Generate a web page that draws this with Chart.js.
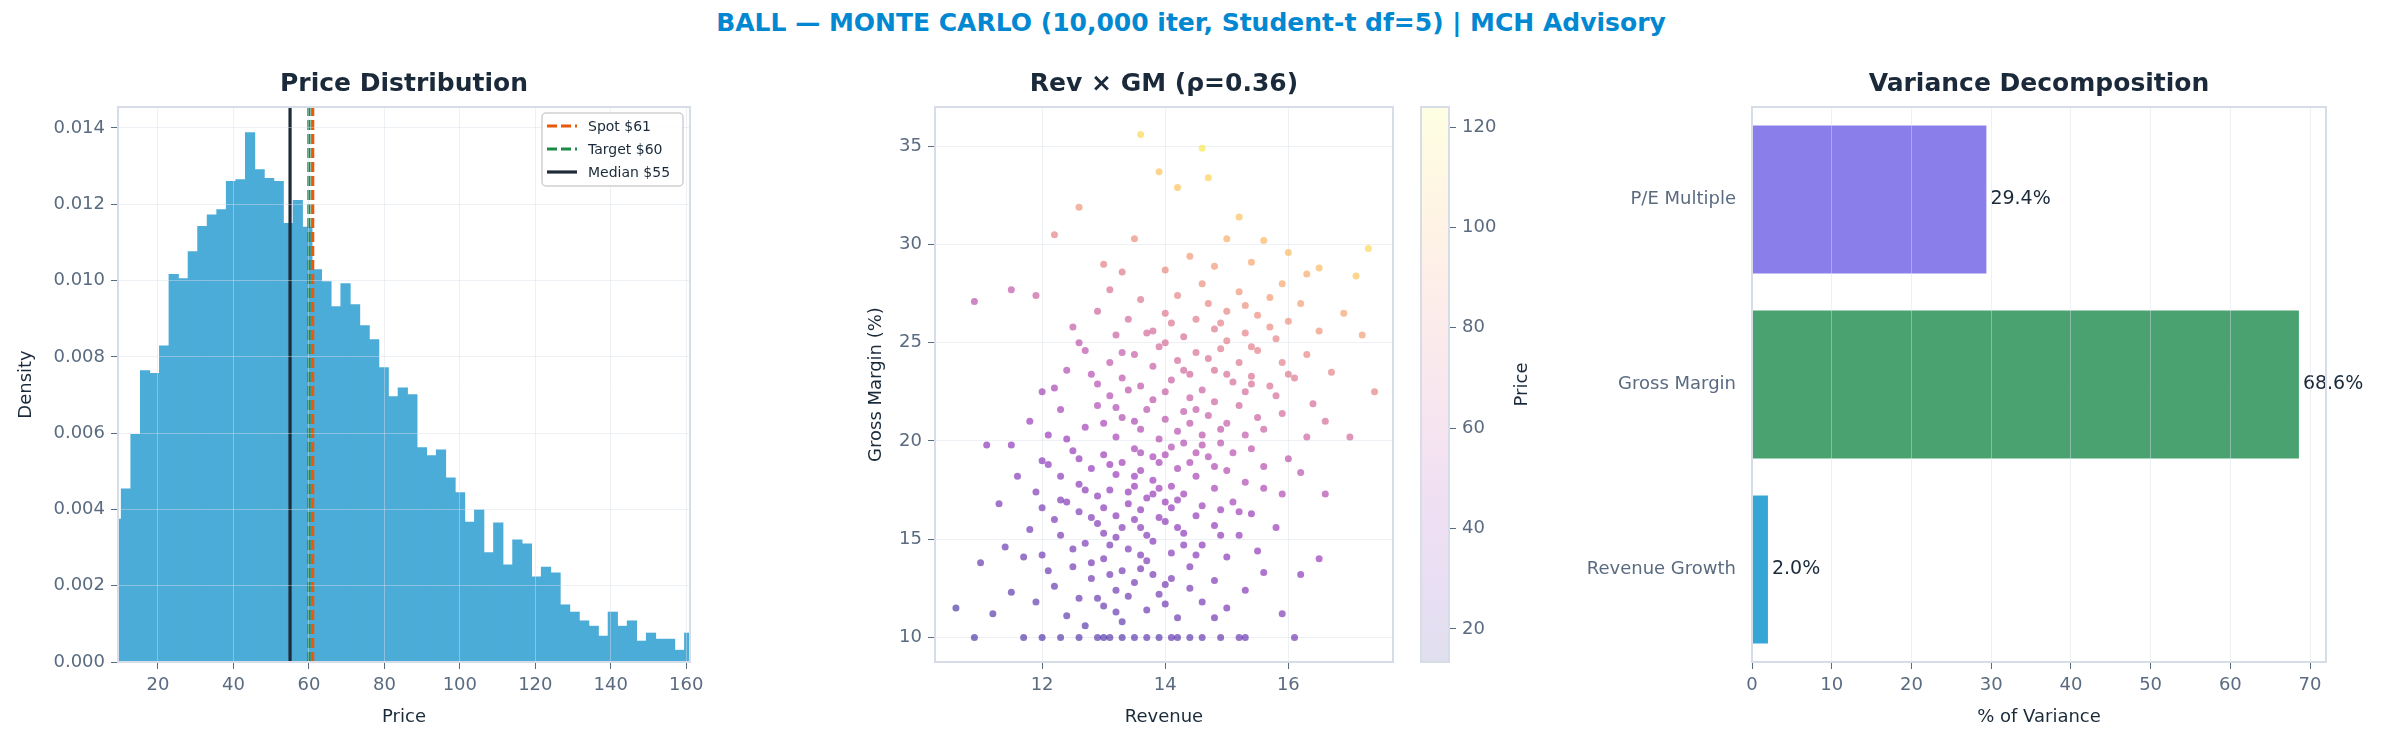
<!DOCTYPE html>
<html><head><meta charset="utf-8">
<script src="https://cdn.jsdelivr.net/npm/chart.js@4"></script>
<style>
html,body{margin:0;padding:0;background:#fff;width:2382px;height:742px;overflow:hidden}
canvas{position:absolute;left:0;top:0}
#title{position:absolute;left:0;top:8px;width:2382px;text-align:center;font:bold 25px 'DejaVu Sans';color:#0288D1}
</style></head><body>
<div id="title">BALL — MONTE CARLO (10,000 iter, Student-t df=5) | MCH Advisory</div>
<canvas id="c1" width="2382" height="742"></canvas>
<canvas id="c2" width="2382" height="742"></canvas>
<canvas id="c3" width="2382" height="742"></canvas>
<canvas id="c4" width="2382" height="742"></canvas>
<script>
// ---------- DATA ----------
const histStart = 7.72, histBinWidth = 2.53;
const histDensity = [0.00375,0.00454,0.00597,0.00764,0.00757,0.00829,0.01016,0.01005,0.01076,0.01142,
 0.01172,0.01186,0.01260,0.01265,0.01388,0.01291,0.01268,0.01260,0.01150,0.01210,
 0.01140,0.01029,0.00997,0.00932,0.00992,0.00937,0.00882,0.00845,0.00772,0.00696,
 0.00719,0.00701,0.00562,0.00541,0.00556,0.00483,0.00444,0.00367,0.00399,0.00287,
 0.00365,0.00255,0.00320,0.00310,0.00223,0.00249,0.00234,0.00150,0.00131,0.00108,
 0.00094,0.00068,0.00131,0.00094,0.00108,0.00055,0.00076,0.00060,0.00060,0.00031,0.00076];
const refLabels = ['Spot $61','Target $60','Median $55'];
const refValues = [61, 60, 55];
const histXTicks = [20,40,60,80,100,120,140,160];
const histYTicks = [0,0.002,0.004,0.006,0.008,0.010,0.012,0.014];

// [revenue, gross margin %, price]
const scatterSamples = [
[11.7,10,20],[12.0,10,19],[12.3,10,21],[12.6,10,20],[12.9,10,22],[13.1,10,21],[13.3,10,20],[13.5,10,22],[13.7,10,23],[13.9,10,21],[14.1,10,24],[14.2,10,22],[14.4,10,23],[14.6,10,25],[14.9,10,24],[15.2,10,26],[15.3,10,25],[10.9,10,17],[16.1,10,28],[13.0,10,19],
[10.6,11.5,18],[11.2,11.2,20],[11.5,12.3,22],[11.9,11.8,23],[12.2,12.6,24],[12.4,11.1,22],[12.6,12.0,25],[12.8,13.0,27],[13.0,11.6,24],[13.2,12.4,26],[13.3,10.8,22],[13.5,12.8,28],[13.7,11.4,26],[13.9,12.2,28],[14.1,13.0,30],[14.2,11.0,26],[14.4,12.5,30],[14.6,11.8,29],[14.8,12.9,32],[15.0,11.5,30],[15.3,12.4,33],[15.9,11.2,32],[16.2,13.2,37],[12.1,13.4,26],[13.6,13.5,29],[12.9,12.0,24],[14.0,11.7,27],
[11.0,13.8,24],[11.4,14.6,26],[11.8,15.5,29],[12.0,14.2,28],[12.3,15.2,30],[12.5,13.6,28],[12.7,14.8,31],[12.9,15.8,33],[13.0,14.0,30],[13.2,15.1,33],[13.3,13.4,29],[13.4,14.5,32],[13.6,15.6,35],[13.7,13.9,32],[13.8,14.9,34],[14.0,15.9,37],[14.1,14.3,34],[14.3,15.3,37],[14.4,13.6,33],[14.6,14.7,36],[14.8,15.7,39],[15.0,14.1,36],[15.2,15.2,39],[15.5,14.4,38],[15.8,15.6,42],[16.5,14.0,42],[12.2,16.0,31],[13.5,16.0,35],[14.5,16.2,39],[13.1,13.2,28],[12.6,16.4,32],[15.4,16.3,42],
[11.3,16.8,30],[11.6,18.2,34],[11.9,17.4,33],[12.1,18.8,37],[12.4,16.9,34],[12.6,17.8,37],[12.8,18.6,40],[13.0,16.6,36],[13.1,17.5,39],[13.2,18.3,42],[13.4,16.8,38],[13.5,17.7,41],[13.6,18.5,44],[13.7,17.1,40],[13.8,18.0,43],[13.9,18.9,46],[14.0,16.9,41],[14.1,17.7,44],[14.2,18.6,47],[14.3,17.3,44],[14.5,18.2,47],[14.6,16.7,43],[14.8,17.6,47],[15.0,18.5,51],[15.1,16.9,46],[15.3,17.9,50],[15.6,18.7,53],[15.9,17.3,50],[16.2,18.4,55],[12.3,17.0,33],[12.9,17.2,37],[13.3,18.9,44],[14.4,18.9,49],[14.9,16.5,43],[12.0,19.0,37],[16.6,17.3,52],
[11.5,19.8,38],[11.8,21.0,42],[12.1,20.3,41],[12.3,21.6,46],[12.5,19.5,40],[12.7,20.7,45],[12.9,21.8,50],[13.0,19.3,43],[13.2,20.2,47],[13.3,21.2,51],[13.5,19.6,46],[13.6,20.6,50],[13.7,21.6,54],[13.8,19.2,47],[13.9,20.1,51],[14.0,21.1,55],[14.1,19.7,51],[14.2,20.5,54],[14.3,21.5,58],[14.5,19.4,51],[14.6,20.3,55],[14.7,21.3,60],[14.9,19.9,55],[15.0,20.9,60],[15.2,21.8,64],[15.4,19.6,56],[15.6,20.6,62],[15.9,21.4,66],[16.3,20.2,63],[16.6,21.0,68],[17.0,20.2,66],[12.2,22.7,47],[13.1,22.3,52],[14.4,22.2,61],[15.3,22.5,67],[11.1,19.8,36],[14.8,22.0,63],[13.4,22.6,55],
[12.0,22.5,46],[12.4,23.6,51],[12.7,24.6,56],[12.9,22.9,52],[13.1,24.0,57],[13.3,23.2,56],[13.5,24.4,61],[13.6,22.8,56],[13.8,23.8,61],[13.9,24.8,66],[14.1,23.1,61],[14.2,24.1,66],[14.4,23.4,64],[14.5,24.5,70],[14.6,22.6,62],[14.8,23.6,68],[14.9,24.7,74],[15.1,23.0,67],[15.2,24.0,72],[15.4,23.3,70],[15.5,24.6,77],[15.7,22.8,69],[15.9,24.0,76],[16.1,23.2,73],[16.3,24.4,80],[16.7,23.5,78],[17.4,22.5,79],[12.6,25.0,56],[14.0,25.0,68],[15.0,25.1,76],
[12.5,25.8,59],[12.9,26.6,64],[13.2,25.4,62],[13.4,26.2,67],[13.6,27.2,72],[13.8,25.6,67],[14.0,26.5,73],[14.2,27.4,78],[14.3,25.3,68],[14.5,26.2,75],[14.7,27.0,80],[14.8,25.7,74],[15.0,26.6,80],[15.2,27.6,87],[15.3,25.5,77],[15.5,26.4,83],[15.7,27.3,89],[15.8,25.2,79],[16.0,26.1,85],[16.2,27.0,91],[16.5,25.6,86],[16.9,26.5,93],[17.2,25.4,90],[13.1,27.7,70],[11.9,27.4,62],[14.6,28.0,84],[15.9,28.0,94],
[12.2,30.5,78],[12.6,31.9,86],[13.0,29.0,76],[13.5,30.3,84],[13.6,35.6,112],[13.9,33.7,105],[14.0,28.7,81],[14.2,32.9,104],[14.4,29.4,88],[14.6,34.9,118],[14.7,33.4,110],[14.8,28.9,88],[15.0,30.3,97],[15.2,31.4,104],[15.4,29.1,94],[15.6,30.2,100],[16.0,29.6,102],[16.5,28.8,101],[17.1,28.4,104],[17.3,29.8,112],[16.3,28.5,96],[13.3,28.6,74],[10.9,27.1,55],[11.5,27.7,58],
[13.2,16.2,35],[13.4,17.4,39],[13.6,16.5,38],[13.8,17.3,41],[13.5,18.2,42],[13.9,16.1,38],[14.1,16.6,40],[13.3,15.6,34],[13.7,15.2,34],[14.2,15.6,37],[13.0,15.3,32],[12.8,16.1,33],[12.7,17.5,36],[13.1,18.8,41],[13.6,19.4,46],[14.0,19.3,48],[14.3,19.9,52],[14.4,20.9,56],[14.7,19.2,51],[14.9,20.6,57],[15.1,19.4,54],[15.3,20.3,58],[15.5,21.2,62],[14.0,22.5,60],[14.3,23.6,65],[14.7,24.2,70],[15.0,23.4,68],[15.4,24.8,76],[15.7,25.8,82],[14.9,26.0,77],[15.3,26.9,84],[14.1,26.0,72],[13.7,25.5,66],[13.3,24.5,58],[12.8,23.4,52],[13.0,20.9,47],[12.6,19.1,40],[12.3,18.2,36],[12.5,14.5,29],[12.8,13.8,28],[13.4,12.1,26],[13.8,13.2,30],[14.5,14.2,35],[14.9,15.2,38],[15.2,16.4,44],[15.6,17.6,49],[16.0,19.1,56],[16.4,21.9,67],[16.0,23.4,74],[15.8,22.3,68],[13.2,21.7,50],[13.5,21.0,49],[13.8,22.1,55],[14.5,21.6,58],[14.8,18.7,50],[14.2,17.0,42],[13.1,14.7,31],[13.6,14.2,31],[14.3,14.7,35],[13.9,17.6,43],[14.6,19.8,53],[15.4,22.9,68],[12.4,20.1,41],[12.0,16.6,31],[11.7,14.1,26],[14.0,12.7,29],[13.2,11.3,24],[12.7,10.6,21],[14.8,11.0,27],[15.6,13.3,36]
];
const scatterXTicks = [12,14,16];
const scatterYTicks = [10,15,20,25,30,35];
const colorbarTicks = [20,40,60,80,100,120];
const priceRange = [13.4, 124];

const varCategories = ['P/E Multiple','Gross Margin','Revenue Growth'];
const varValues = [29.4, 68.6, 2.0];
const varTicks = [0,10,20,30,40,50,60,70];

// ---------- STYLE ----------
Chart.defaults.font.family = "'DejaVu Sans'";
Chart.defaults.animation = false;
Chart.defaults.devicePixelRatio = 1;
const TICK = '#5a6b80', DARK = '#1a2a3a', FRAME = '#d6dde7', GRID = 'rgba(214,221,232,0.45)';
const W = 2382, H = 742, TOP = 107, BOT = 662;
const plasma = [[13,8,135],[75,3,161],[125,3,168],[168,34,150],[204,71,120],[230,108,92],[248,149,64],[253,197,39],[240,249,33]];
function plasmaColor(t, a){
  t = Math.max(0, Math.min(1, t)); const f = t*(plasma.length-1); const i = Math.min(plasma.length-2, Math.floor(f)); const u = f-i;
  const c = plasma[i].map((v,k)=>Math.round(v+(plasma[i+1][k]-v)*u));
  return `rgba(${c[0]},${c[1]},${c[2]},${a})`;
}
function fixTicks(list){ return (axis)=>{ axis.ticks = list.map(v=>({value:v})); }; }
function fitW(w){ return (s)=>{ s.width = w; }; }
function fitH(h){ return (s)=>{ s.height = h; }; }
const frame = { id:'frame', afterDraw(ch){ const a=ch.chartArea,c=ch.ctx; c.save(); c.strokeStyle=FRAME; c.lineWidth=2; c.strokeRect(a.left,a.top,a.right-a.left,a.bottom-a.top); c.restore(); } };
function titlePlugin(text){ return { id:'ptitle', afterDraw(ch){ const a=ch.chartArea,c=ch.ctx; c.save(); c.font="bold 25px 'DejaVu Sans'"; c.fillStyle=DARK; c.textAlign='center'; c.textBaseline='middle'; c.fillText(text,(a.left+a.right)/2,84); c.restore(); } }; }
function vTitle(text, x){ return { id:'vt', afterDraw(ch){ const c=ch.ctx; c.save(); c.translate(x,(TOP+BOT)/2); c.rotate(-Math.PI/2);
  c.font="18px 'DejaVu Sans'"; c.fillStyle=DARK; c.textAlign='center'; c.textBaseline='middle'; c.fillText(text,0,0); c.restore(); } }; }
function xAxis(opts){ return Object.assign({ type:'linear', offset:false, grid:{color:GRID, tickColor:TICK, tickLength:7, offset:false}, border:{display:false},
  ticks:{color:TICK, font:{size:18}, padding:6}, afterFit: fitH(H-BOT)}, opts); }
function yAxis(opts){ return Object.assign({ type:'linear', grid:{color:GRID, tickColor:TICK, tickLength:7}, border:{display:false},
  ticks:{color:TICK, font:{size:18}, padding:6}}, opts); }

// ---------- CHART 1: histogram ----------
const lineColors = ['#e8590c','#1e8a4a','#1e2a38'];
const lineDash = [[10,4],[10,4],[]];
const histData = histDensity.map((d,i)=>({x: histStart + histBinWidth*(i+0.5), y: d}));
const yTop = 0.01455;
const refSets = refValues.map((v,i)=>({ type:'line', label:refLabels[i], data:[{x:v,y:0},{x:v,y:yTop}], borderColor:lineColors[i], borderWidth:3.2, borderDash:lineDash[i], pointRadius:0, order:1 }));
const legendPlugin = { id:'leg', afterDraw(ch){ const c=ch.ctx; c.save();
  c.fillStyle='rgba(255,255,255,0.85)'; c.strokeStyle='#d0d0d0'; c.lineWidth=1.5;
  c.beginPath(); c.roundRect(542,113,141,73,4); c.fill(); c.stroke();
  refLabels.forEach((l,i)=>{ const y=126+i*23; c.strokeStyle=lineColors[i]; c.lineWidth=3.2; c.setLineDash(lineDash[i]); c.beginPath(); c.moveTo(547,y); c.lineTo(577,y); c.stroke(); c.setLineDash([]);
    c.fillStyle=DARK; c.font="14px 'DejaVu Sans'"; c.textBaseline='middle'; c.fillText(l,588,y+1); });
  c.restore(); } };
new Chart(document.getElementById('c1'), {
  type:'bar',
  data:{ datasets:[ { type:'bar', data:histData, backgroundColor:'#4BACD8', barPercentage:1, categoryPercentage:1, order:2 }, ...refSets ] },
  options:{ responsive:false, layout:{padding:{left:0,right:W-690,top:TOP,bottom:0}},
    plugins:{legend:{display:false}, tooltip:{enabled:false}},
    scales:{
      x: xAxis({min:9.4, max:161, afterBuildTicks:fixTicks(histXTicks), grid:{color:GRID,tickColor:TICK,tickLength:7,z:1,offset:false},
        title:{display:true,text:'Price',color:DARK,font:{size:18},padding:{top:0,bottom:14}}}),
      y: yAxis({min:0, max:yTop, afterBuildTicks:fixTicks(histYTicks), afterFit:fitW(118), grid:{color:GRID,tickColor:TICK,tickLength:7,z:1},
        ticks:{color:TICK,font:{size:18},padding:6,callback:v=>v.toFixed(3)}})
    } },
  plugins:[frame, titlePlugin('Price Distribution'), legendPlugin, vTitle('Density', 26)]
});

// ---------- CHART 2: scatter ----------
const norm = p => (p-priceRange[0])/(priceRange[1]-priceRange[0]);
new Chart(document.getElementById('c2'), {
  type:'scatter',
  data:{ datasets:[{ data:scatterSamples.map(s=>({x:s[0],y:s[1]})), pointRadius:3.5, pointBorderWidth:0,
    pointBackgroundColor:scatterSamples.map(s=>plasmaColor(norm(s[2]),0.55)) }] },
  options:{ responsive:false, layout:{padding:{left:0,right:W-1393,top:TOP,bottom:0}},
    plugins:{legend:{display:false}, tooltip:{enabled:false}},
    scales:{
      x: xAxis({min:10.26, max:17.7, afterBuildTicks:fixTicks(scatterXTicks),
        title:{display:true,text:'Revenue',color:DARK,font:{size:18},padding:{top:0,bottom:14}}}),
      y: yAxis({min:8.75, max:37, afterBuildTicks:fixTicks(scatterYTicks), afterFit:fitW(935)})
    } },
  plugins:[frame, titlePlugin('Rev × GM (ρ=0.36)'), vTitle('Gross Margin (%)', 876)]
});

// ---------- CHART 3: colorbar ----------
new Chart(document.getElementById('c3'), {
  type:'bar',
  data:{ labels:['Price'], datasets:[{ data:[priceRange], barPercentage:1, categoryPercentage:1,
    backgroundColor:(ctx)=>{ const a=ctx.chart.chartArea; if(!a) return 'transparent'; const g=ctx.chart.ctx.createLinearGradient(0,a.bottom,0,a.top);
      for(let i=0;i<=8;i++) g.addColorStop(i/8, plasmaColor(i/8,0.13)); return g; } }] },
  options:{ responsive:false, layout:{padding:{left:1421,right:0,top:TOP,bottom:H-BOT}},
    plugins:{legend:{display:false}, tooltip:{enabled:false}},
    scales:{
      x:{ display:false },
      y: yAxis({position:'right', min:priceRange[0], max:priceRange[1], afterBuildTicks:fixTicks(colorbarTicks), afterFit:fitW(W-1449),
        grid:{display:true, drawOnChartArea:false, tickColor:TICK, tickLength:7}})
    } },
  plugins:[frame, vTitle('Price', 1522)]
});

// ---------- CHART 4: variance bars ----------
const varColors = ['#8A7FEA','#4AA271','#35A6D6'];
const valueLabels = { id:'vl', afterDatasetsDraw(ch){ const c=ch.ctx; const m=ch.getDatasetMeta(0); c.save(); c.font="19px 'DejaVu Sans'"; c.fillStyle=DARK; c.textBaseline='middle';
  m.data.forEach((b,i)=>{ c.fillText(varValues[i].toFixed(1)+'%', b.x+4, b.y); }); c.restore(); } };
new Chart(document.getElementById('c4'), {
  type:'bar',
  data:{ labels:varCategories, datasets:[{ data:varValues, backgroundColor:varColors, barPercentage:0.8, categoryPercentage:1 }] },
  options:{ indexAxis:'y', responsive:false, layout:{padding:{left:0,right:W-2326,top:TOP,bottom:0}},
    plugins:{legend:{display:false}, tooltip:{enabled:false}},
    scales:{
      x: xAxis({min:0, max:72, afterBuildTicks:fixTicks(varTicks), grid:{color:GRID,tickColor:TICK,tickLength:7,z:1,offset:false},
        title:{display:true,text:'% of Variance',color:DARK,font:{size:18},padding:{top:0,bottom:14}}}),
      y:{ type:'category', afterFit:fitW(1752), grid:{display:false, drawTicks:true}, border:{display:false},
        ticks:{color:TICK, font:{size:18}, padding:8} }
    } },
  plugins:[frame, titlePlugin('Variance Decomposition'), valueLabels]
});
</script></body></html>
